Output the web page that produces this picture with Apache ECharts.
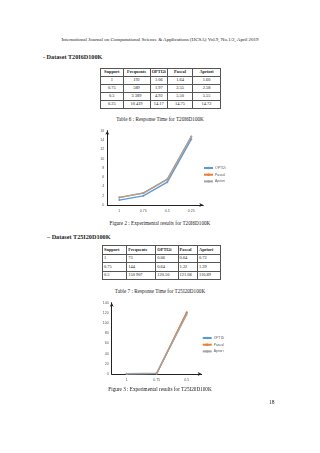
<!DOCTYPE html>
<html>
<head>
<meta charset="utf-8">
<script src="https://cdn.jsdelivr.net/npm/echarts@6/dist/echarts.min.js"></script>
<style>
body{margin:0;background:#fff;}
#page{position:relative;width:320px;height:453px;overflow:hidden;background:#fff;font-family:"Liberation Serif","DejaVu Serif",serif;color:#222;}
.t{position:absolute;white-space:nowrap;line-height:1;}
table{position:absolute;border-collapse:collapse;table-layout:fixed;font-size:4.4px;}
td{border:1px solid #555;padding:0;line-height:1;overflow:hidden;white-space:nowrap;}
.chart{position:absolute;}
</style>
</head>
<body>
<div id="page">
  <div class="t" style="left:0;width:320px;text-align:center;top:36.5px;font-size:5px;">International Journal on Computational Science &amp; Applications (IJCSA) Vol.9, No.1/2, April 2019</div>
  <div class="t" style="left:43px;top:54px;font-size:6.2px;font-weight:bold;">- Dataset T20I6D100K</div>
  <table id="tab6" style="left:100px;top:68px;width:120px;"></table>
  <div class="t" style="left:0;width:320px;text-align:center;top:117px;font-size:5.2px;">Table 6 : Response Time for T20I6D100K</div>
  <div id="chart1" class="chart" style="left:90px;top:125px;width:140px;height:95px;"></div>
  <div class="t" style="left:0;width:320px;text-align:center;top:220.5px;font-size:5.2px;">Figure 2 : Experimental results for T20I6D100K</div>
  <div class="t" style="left:47px;top:233.5px;font-size:6.2px;font-weight:bold;">&ndash; Dataset T25I20D100K</div>
  <table id="tab7" style="left:102px;top:245px;width:118px;"></table>
  <div class="t" style="left:0;width:320px;text-align:center;top:289px;font-size:5.2px;">Table 7 : Response Time for T25I20D100K</div>
  <div id="chart2" class="chart" style="left:95px;top:297px;width:135px;height:90px;"></div>
  <div class="t" style="left:0;width:320px;text-align:center;top:386.5px;font-size:5.2px;">Figure 3 : Experimental results for T25I20D100K</div>
  <div class="t" style="left:269px;top:400px;font-size:5.5px;">18</div>
</div>
<script>
// table + chart data
var headerCols = ['Support', 'Frequents', 'OPTI2i', 'Pascal', 'Apriori'];

var t6Support = ['1', '0.75', '0.5', '0.25'];
var t6Frequents = ['192', '589', '3 389', '10 419'];
var t6Opti = [1.06, 1.97, 4.92, 14.17];
var t6Pascal = [1.64, 2.55, 5.50, 14.75];
var t6Apriori = [1.60, 2.58, 5.55, 14.72];
var t6Ticks = [0, 2, 4, 6, 8, 10, 12, 14, 16];

var t7Support = ['1', '0.75', '0.5'];
var t7Frequents = ['73', '144', '150 907'];
var t7Opti = [0.06, 0.64, 120.50];
var t7Pascal = [0.64, 1.22, 121.08];
var t7Apriori = [0.72, 1.39, 116.89];
var t7Ticks = [0, 20, 40, 60, 80, 100, 120, 140];

var colors = ['#5b9bd5', '#ed7d31', '#a5a5a5'];

function fillTable(id, widths, rowH, align, cols) {
	var tab = document.getElementById(id);
	var html = '<colgroup>';
	widths.forEach(function (w) { html += '<col style="width:' + w + 'px">'; });
	html += '</colgroup>';
	html += '<tr style="height:' + rowH + 'px">';
	headerCols.forEach(function (h) {
		html += '<td style="text-align:' + align + ';font-weight:bold;padding-left:' + (align == 'left' ? 1 : 0) + 'px">' + h + '</td>';
	});
	html += '</tr>';
	for (var i = 0; i < cols[0].length; i++) {
		html += '<tr style="height:' + rowH + 'px">';
		cols.forEach(function (c) {
			var v = c[i];
			if (typeof v == 'number') v = v.toFixed(2);
			html += '<td style="text-align:' + align + ';padding-left:' + (align == 'left' ? 1 : 0) + 'px">' + v + '</td>';
		});
		html += '</tr>';
	}
	tab.innerHTML = html;
}

fillTable('tab6', [22.5, 27, 17.5, 25, 28], 8, 'center', [t6Support, t6Frequents, t6Opti, t6Pascal, t6Apriori]);
fillTable('tab7', [24.3, 29, 22.3, 19.4, 23], 8.5, 'left', [t7Support, t7Frequents, t7Opti, t7Pascal, t7Apriori]);

function makeChart(dom, cats, ticks, opti, pascal, apriori, grid, legendPos) {
	var chart = echarts.init(dom, null, { renderer: 'canvas' });
	var names = ['OPTI2i', 'Pascal', 'Apriori'];
	var vals = [opti, pascal, apriori];
	var series = names.map(function (n, i) {
		return {
			name: n,
			type: 'line',
			data: vals[i],
			symbol: 'circle',
			symbolSize: 2,
			lineStyle: { width: 1.4, color: colors[i] },
			itemStyle: { color: colors[i] },
			animation: false
		};
	});
	chart.setOption({
		animation: false,
		grid: grid,
		legend: {
			data: names,
			orient: 'vertical',
			left: legendPos[0],
			top: legendPos[1],
			itemWidth: 9,
			itemHeight: 3,
			itemGap: legendPos[2],
			textStyle: { fontSize: 3.4, color: '#595959', padding: [0, 0, 0, -3] }
		},
		xAxis: {
			type: 'category',
			data: cats,
			boundaryGap: true,
			axisLine: { lineStyle: { color: '#222', width: 1 }, symbol: ['none', 'arrow'], symbolSize: [3, 4] },
			axisTick: { show: false },
			axisLabel: { fontSize: 3.6, color: '#595959', margin: 4 }
		},
		yAxis: {
			type: 'value',
			min: ticks[0],
			max: ticks[ticks.length - 1],
			interval: ticks[1] - ticks[0],
			axisLine: { show: true, lineStyle: { color: '#222', width: 1 }, symbol: ['none', 'arrow'], symbolSize: [3, 4] },
			axisTick: { show: false },
			splitLine: { show: false },
			axisLabel: { fontSize: 3.6, color: '#595959', margin: 3 }
		},
		series: series
	});
	return chart;
}

makeChart(document.getElementById('chart1'), t6Support, t6Ticks, t6Opti, t6Pascal, t6Apriori,
	{ left: 17.3, top: 5.7, right: 26.7, bottom: 15 }, [108, 36.5, 3.7]);
makeChart(document.getElementById('chart2'), t7Support, t7Ticks, t7Opti, t7Pascal, t7Apriori,
	{ left: 16.7, top: 5.7, right: 28.3, bottom: 13 }, [101.7, 34.5, 3.7]);
</script>
</body>
</html>
